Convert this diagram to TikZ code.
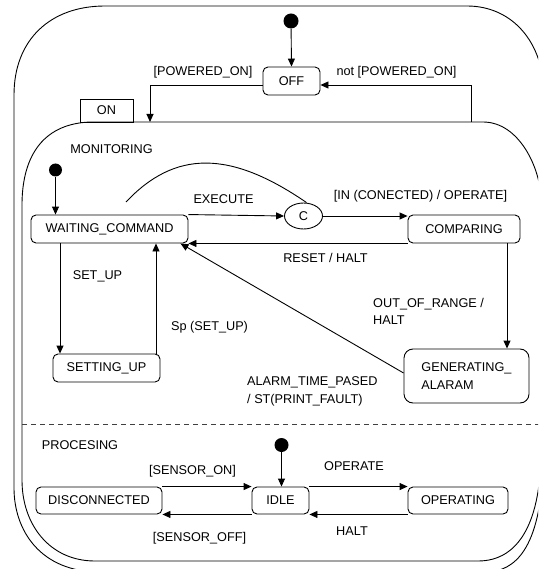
\documentclass[tikz,border=0pt]{standalone}
\usepackage{fontspec}
\setmainfont{Liberation Sans}
\usetikzlibrary{arrows.meta,shapes.geometric}
\begin{document}
\begin{tikzpicture}[x=1pt,y=-1pt,
  every node/.style={font=\fontsize{12.7}{17.5}\selectfont},
  line/.style={line width=0.9pt},
  arr/.style={line width=0.9pt,-{Triangle[length=8pt,width=7pt]}},
  stbox/.style={draw,line width=0.9pt,rounded corners=5pt,inner sep=0pt,fill=white},
  startdot/.style={circle,fill=black,inner sep=0pt,minimum size=15pt},
  lbl/.style={inner sep=0pt},
  region/.style={line width=0.9pt},
]
\clip (0,0) rectangle (538,569);

% outer superstate
\draw[region] (105,6) -- (467,6) .. controls (512,6) and (544,42) .. (544,95)
  -- (544,440) .. controls (544,520) and (530,572) .. (485,572)
  -- (100,572) .. controls (40,572) and (14,530) .. (14,488)
  -- (14,95) .. controls (14,40) and (50,6) .. (105,6) -- cycle;

% ON superstate
\draw[region] (90,122) -- (483,122) .. controls (520,122) and (541,170) .. (541,200)
  -- (541,450) .. controls (541,520) and (520,561) .. (478,561)
  -- (95,561) .. controls (50,561) and (22,525) .. (22,480)
  -- (22,205) .. controls (22,160) and (40,124) .. (90,122) -- cycle;
\node[draw,line width=0.9pt,minimum width=53pt,minimum height=23pt,inner sep=0pt] (ontab) at (106.5,110.5) {ON};

% top level
\node[startdot] (d0) at (291,21) {};
\node[stbox,minimum width=57pt,minimum height=28pt] (off) at (291.5,81) {OFF};
\draw[arr] (d0) -- (off.north);
\coordinate (pon) at (150,122);
\coordinate (npon) at (471,122);
\draw[arr] ([yshift=-4pt]off.west) -| (pon);
\draw[arr] (npon) |- ([yshift=-4pt]off.east);
\node[lbl] (lpon) at (203,72) {[POWERED\_ON]};
\node[lbl] (lnpon) at (396.5,72) {not [POWERED\_ON]};

% MONITORING region
\node[lbl] (mon) at (111.5,149) {MONITORING};
\node[startdot,minimum size=13pt] (d1) at (55.5,170) {};
\node[stbox,minimum width=157pt,minimum height=28pt] (wait) at (109.5,229) {WAITING\_COMMAND};
\node[draw,ellipse,line width=0.9pt,minimum width=38pt,minimum height=26pt,inner sep=0pt] (cc) at (303.5,216) {C};
\node[stbox,minimum width=112pt,minimum height=28pt] (comp) at (464,229) {COMPARING};
\node[stbox,minimum width=107pt,minimum height=28pt] (setup) at (106.5,368) {SETTING\_UP};
\node[stbox,minimum width=125pt,minimum height=54pt,align=left,rounded corners=9pt] (gen) at (466.5,376) {GENERATING\_\\ALARAM};

\draw[arr] (d1) -- (d1 |- wait.north);
\draw[arr] (wait.north east) -- (cc.west);
\draw[arr] (cc.east) -- (cc.east -| comp.west);
\draw[arr] (comp.south west) -- (wait.south east);
\coordinate (loopend) at (126,202);
\draw[line] ([xshift=3pt]cc.north) .. controls (230,150) and (175,150) .. (loopend);
\coordinate (su1) at ([xshift=-49.5pt]wait.south);
\draw[arr] (su1) -- (su1 |- setup.north);
\coordinate (su2) at ([xshift=49.5pt]setup.north);
\draw[arr] (su2) -- (su2 |- wait.south);
\coordinate (cg) at ([xshift=43pt]comp.south);
\draw[arr] (cg) -- (cg |- gen.north);
\draw[arr] ([yshift=3pt]gen.west) -- ([xshift=-8pt]wait.south east);

\node[lbl] (lexe) at (223.5,199) {EXECUTE};
\node[lbl] (lin) at (420.5,196) {[IN (CONECTED) / OPERATE]};
\node[lbl] (lreset) at (325.5,258) {RESET / HALT};
\node[lbl] (lsetup) at (97.5,276) {SET\_UP};
\node[lbl] (lsp) at (209.5,327) {Sp (SET\_UP)};
\node[lbl,anchor=west,align=left] (lout) at (373,311.5) {OUT\_OF\_RANGE /\\HALT};
\node[lbl,anchor=west,align=left] (lalarm) at (247,391.5) {ALARM\_TIME\_PASED\\/ ST(PRINT\_FAULT)};

% PROCESING region
\draw[line width=0.9pt,black!75,dash pattern=on 5pt off 4pt] (22,424) -- (541,424);
\node[lbl] (proc) at (80,445) {PROCESING};
\node[startdot,minimum size=14pt] (d2) at (281.5,445) {};
\node[stbox,minimum width=126pt,minimum height=27pt] (disc) at (99,500.5) {DISCONNECTED};
\node[stbox,minimum width=57pt,minimum height=27pt] (idle) at (280.5,500.5) {IDLE};
\node[stbox,minimum width=100pt,minimum height=27pt] (oper) at (458,500.5) {OPERATING};

\draw[arr] (d2) -- (d2 |- idle.north);
\draw[arr] (disc.north east) -- (idle.north west);
\draw[arr] (idle.south west) -- (disc.south east);
\draw[arr] (idle.north east) -- (oper.north west);
\draw[arr] (oper.south west) -- (idle.south east);

\node[lbl] (lson) at (192.5,471) {[SENSOR\_ON]};
\node[lbl] (lsoff) at (199.5,538) {[SENSOR\_OFF]};
\node[lbl] (lop) at (354,466) {OPERATE};
\node[lbl] (lhalt) at (352,531) {HALT};
\end{tikzpicture}
\end{document}
